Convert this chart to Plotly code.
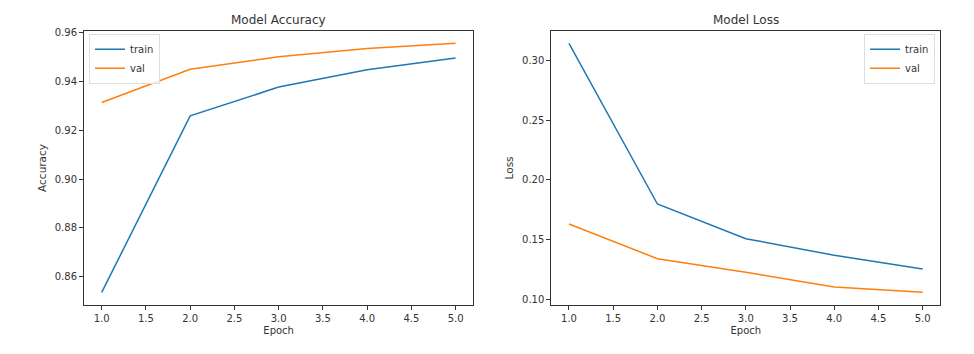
import plotly.graph_objects as go

epochs = [1, 2, 3, 4, 5]
acc_train = [0.8535, 0.9259, 0.9377, 0.9448, 0.9496]
acc_val = [0.9314, 0.9450, 0.9501, 0.9535, 0.9557]
loss_train = [0.3140, 0.1798, 0.1508, 0.1370, 0.1255]
loss_val = [0.1631, 0.1341, 0.1228, 0.1104, 0.1061]

blue = "#1f77b4"
orange = "#ff7f0e"
W, H = 974, 354
font = "DejaVu Sans"

fig = go.Figure()
fig.add_trace(go.Scatter(x=epochs, y=acc_train, mode="lines", name="train",
                         line=dict(color=blue, width=1.5), xaxis="x", yaxis="y", legend="legend"))
fig.add_trace(go.Scatter(x=epochs, y=acc_val, mode="lines", name="val",
                         line=dict(color=orange, width=1.5), xaxis="x", yaxis="y", legend="legend"))
fig.add_trace(go.Scatter(x=epochs, y=loss_train, mode="lines", name="train",
                         line=dict(color=blue, width=1.5), xaxis="x2", yaxis="y2", legend="legend2"))
fig.add_trace(go.Scatter(x=epochs, y=loss_val, mode="lines", name="val",
                         line=dict(color=orange, width=1.5), xaxis="x2", yaxis="y2", legend="legend2"))

ydom = [(H - 304.3) / H, (H - 27.3) / H]
axis_common = dict(showline=True, linecolor="#333", linewidth=1, mirror=True,
                   ticks="outside", ticklen=4, tickcolor="#333", showgrid=False,
                   zeroline=False, tickfont=dict(size=10, color="#333", family=font))

xticks = [1.0, 1.5, 2.0, 2.5, 3.0, 3.5, 4.0, 4.5, 5.0]
xtick_text = [f"{v:.1f}" for v in xticks]

legend_common = dict(bgcolor="rgba(255,255,255,0.8)", bordercolor="#ddd", borderwidth=1,
                     font=dict(size=10, family=font, color="#333"), tracegroupgap=0,
                     itemwidth=30)

fig.update_layout(
    width=W, height=H,
    margin=dict(l=0, r=0, t=0, b=0),
    paper_bgcolor="white", plot_bgcolor="white",
    font=dict(family=font, color="#333"),
    xaxis=dict(domain=[84 / W, 473.3 / W], range=[0.8, 5.2], anchor="y",
               tickvals=xticks, ticktext=xtick_text,
               title=dict(text="Epoch", font=dict(size=10, family=font), standoff=4), **axis_common),
    yaxis=dict(domain=ydom, range=[0.8484, 0.9607], anchor="x",
               tickvals=[0.86, 0.88, 0.90, 0.92, 0.94, 0.96],
               ticktext=["0.86", "0.88", "0.90", "0.92", "0.94", "0.96"],
               title=dict(text="Accuracy", font=dict(size=10.5, family=font), standoff=6), **axis_common),
    xaxis2=dict(domain=[551.3 / W, 940.3 / W], range=[0.8, 5.2], anchor="y2",
                tickvals=xticks, ticktext=xtick_text,
                title=dict(text="Epoch", font=dict(size=10, family=font), standoff=4), **axis_common),
    yaxis2=dict(domain=ydom, range=[0.0955, 0.3244], anchor="x2",
                tickvals=[0.10, 0.15, 0.20, 0.25, 0.30],
                ticktext=["0.10", "0.15", "0.20", "0.25", "0.30"],
                title=dict(text="Loss", font=dict(size=10.5, family=font), standoff=6), **axis_common),
    legend=dict(x=89 / W, y=1 - 30 / H, xanchor="left", yanchor="top", **legend_common),
    legend2=dict(x=935 / W, y=1 - 30 / H, xanchor="right", yanchor="top", **legend_common),
    annotations=[
        dict(text="Model Accuracy", x=(84 + 473.3) / 2 / W, y=1 - 16 / H, xref="paper", yref="paper",
             showarrow=False, font=dict(size=12, family=font, color="#333"), xanchor="center", yanchor="middle"),
        dict(text="Model Loss", x=(551.3 + 940.3) / 2 / W, y=1 - 16 / H, xref="paper", yref="paper",
             showarrow=False, font=dict(size=12, family=font, color="#333"), xanchor="center", yanchor="middle"),
    ],
)

fig.write_html("out.html")
